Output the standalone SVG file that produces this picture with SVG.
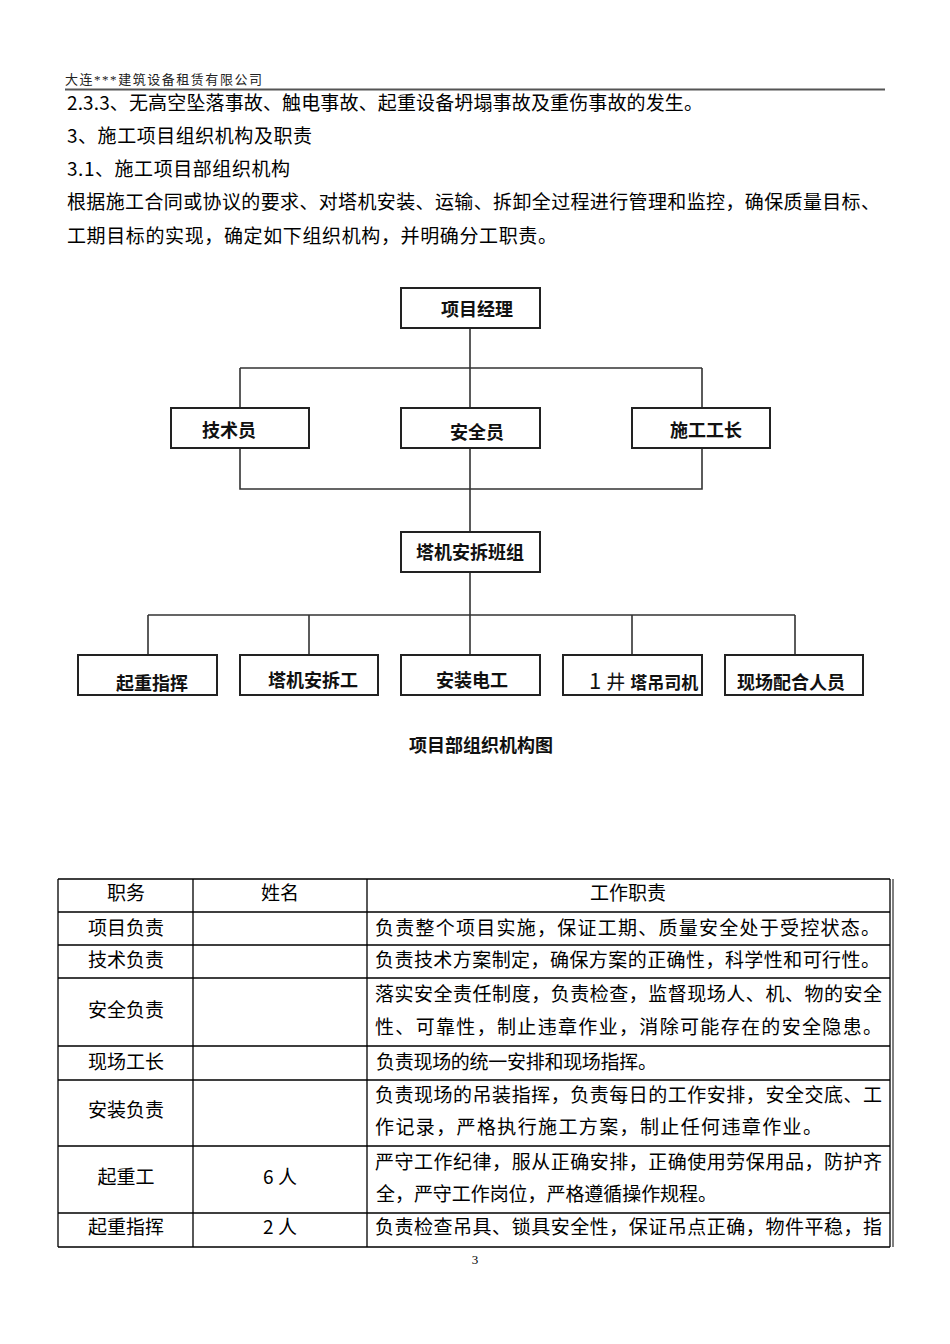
<svg xmlns="http://www.w3.org/2000/svg" width="950" height="1344" viewBox="0 0 950 1344">
<style>
.body{font-family:"Noto Sans CJK SC","Noto Sans",sans-serif;font-size:19px;fill:#000}
.hdr{font-family:"Liberation Serif","Noto Sans CJK SC",serif;font-size:13px;fill:#222}
.box{fill:#fff;stroke:#222;stroke-width:2}
.lbl{font-family:"Noto Sans CJK SC",sans-serif;font-size:18px;font-weight:bold;fill:#111}
.ln{fill:none;stroke:#333;stroke-width:1.6}
.tb{fill:none;stroke:#000;stroke-width:1.3}
.c{text-anchor:middle}
</style>
<rect width="950" height="1344" fill="#fff"/>
<text class="hdr" x="65" y="84" textLength="197">大连***建筑设备租赁有限公司</text>
<line x1="65" y1="89.5" x2="885" y2="89.5" stroke="#555" stroke-width="2"/>
<text class="body" x="67" y="110" textLength="636">2.3.3、无高空坠落事故、触电事故、起重设备坍塌事故及重伤事故的发生。</text>
<text class="body" x="67" y="143" textLength="245">3、施工项目组织机构及职责</text>
<text class="body" x="67" y="176" textLength="223">3.1、施工项目部组织机构</text>
<text class="body" x="67" y="209" textLength="813">根据施工合同或协议的要求、对塔机安装、运输、拆卸全过程进行管理和监控，确保质量目标、</text>
<text class="body" x="67" y="243" textLength="490">工期目标的实现，确定如下组织机构，并明确分工职责。</text>

<g id="connectors">
<path class="ln" d="M470 328V532M240 368H702M240 368V408M702 368V408M240 448V489H702V448M470 572V655M148 615H795M148 615V655M309 615V655M632 615V655M795 615V655"/>
</g>
<g id="n-pm"><rect class="box" x="401" y="288" width="139" height="40"/><text class="lbl c" x="477" y="316">项目经理</text></g>
<g id="n-tech"><rect class="box" x="171" y="408" width="138" height="40"/><text class="lbl" x="202" y="437">技术员</text></g>
<g id="n-safe"><rect class="box" x="401" y="408" width="139" height="40"/><text class="lbl c" x="477" y="439">安全员</text></g>
<g id="n-foreman"><rect class="box" x="632" y="408" width="138" height="40"/><text class="lbl" x="670" y="437">施工工长</text></g>
<g id="n-team"><rect class="box" x="401" y="532" width="139" height="40"/><text class="lbl c" x="470" y="559">塔机安拆班组</text></g>
<g id="n-b1"><rect class="box" x="78" y="655" width="139" height="40"/><text class="lbl" x="116" y="690">起重指挥</text></g>
<g id="n-b2"><rect class="box" x="240" y="655" width="138" height="40"/><text class="lbl" x="268" y="687">塔机安拆工</text></g>
<g id="n-b3"><rect class="box" x="401" y="655" width="139" height="40"/><text class="lbl" x="436" y="687">安装电工</text></g>
<g id="n-b4"><rect class="box" x="563" y="655" width="139" height="40"/><text class="lbl" x="589" y="689"><tspan font-weight="normal" font-size="22">1</tspan><tspan font-weight="normal" font-size="19" dx="5">井</tspan><tspan dx="5" font-size="17">塔吊司机</tspan></text></g>
<g id="n-b5"><rect class="box" x="725" y="655" width="138" height="40"/><text class="lbl" x="737" y="689">现场配合人员</text></g>
<text class="lbl c" x="481" y="752" font-size="17">项目部组织机构图</text>

<g id="table">
<path class="tb" d="M58 879H890M58 912H890M58 945H890M58 978H890M58 1046H890M58 1080H890M58 1146H890M58 1213H890M58 1247H890M58 879V1247M193 879V1247M367 879V1247M890 879V1247"/>
<line x1="893" y1="879" x2="893" y2="1247" stroke="#000" stroke-width="1"/>
<text class="body c" x="126" y="900">职务</text>
<text class="body c" x="280" y="900">姓名</text>
<text class="body c" x="628" y="900">工作职责</text>
<text class="body c" x="126" y="935">项目负责</text>
<text class="body" x="375" y="935" textLength="505">负责整个项目实施，保证工期、质量安全处于受控状态。</text>
<text class="body c" x="126" y="967">技术负责</text>
<text class="body" x="375" y="967" textLength="505">负责技术方案制定，确保方案的正确性，科学性和可行性。</text>
<text class="body c" x="126" y="1017">安全负责</text>
<text class="body" x="375" y="1001" textLength="507">落实安全责任制度，负责检查，监督现场人、机、物的安全</text>
<text class="body" x="375" y="1034" textLength="507">性、可靠性，制止违章作业，消除可能存在的安全隐患。</text>
<text class="body c" x="126" y="1069">现场工长</text>
<text class="body" x="376" y="1069" textLength="281">负责现场的统一安排和现场指挥。</text>
<text class="body c" x="126" y="1117">安装负责</text>
<text class="body" x="375" y="1102" textLength="507">负责现场的吊装指挥，负责每日的工作安排，安全交底、工</text>
<text class="body" x="375" y="1134" textLength="447">作记录，严格执行施工方案，制止任何违章作业。</text>
<text class="body c" x="126" y="1184">起重工</text>
<text class="body c" x="280" y="1184">6 人</text>
<text class="body" x="375" y="1169" textLength="507">严守工作纪律，服从正确安排，正确使用劳保用品，防护齐</text>
<text class="body" x="376" y="1201" textLength="341">全，严守工作岗位，严格遵循操作规程。</text>
<text class="body c" x="126" y="1234">起重指挥</text>
<text class="body c" x="280" y="1234">2 人</text>
<text class="body" x="375" y="1234" textLength="507">负责检查吊具、锁具安全性，保证吊点正确，物件平稳，指</text>
</g>
<text x="475" y="1264" font-family="Liberation Serif,serif" font-size="13" text-anchor="middle">3</text>
</svg>
